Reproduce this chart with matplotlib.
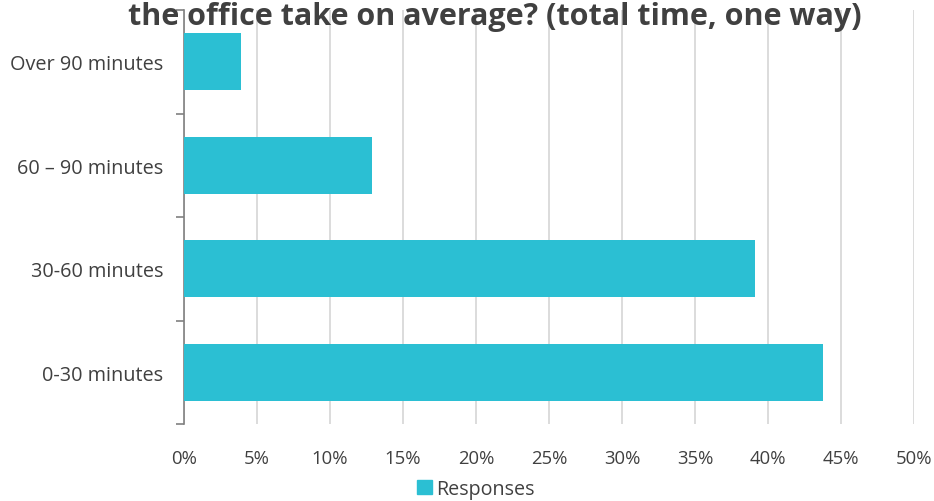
import matplotlib
matplotlib.use("Agg")
import matplotlib.pyplot as plt
from matplotlib.ticker import MultipleLocator, PercentFormatter
from matplotlib.patches import Patch

categories = ["0-30 minutes", "30-60 minutes", "60 \u2013 90 minutes", "Over 90 minutes"]
responses = [43.8, 39.1, 12.9, 3.9]
series_name = "Responses"
title = "the office take on average? (total time, one way)"

plt.rcParams['font.family'] = ['Open Sans', 'DejaVu Sans']
text_color = "#404040"
bar_color = "#2BBFD3"

fig = plt.figure(figsize=(9.34, 5.02), dpi=100)
ax = fig.add_axes([184/934, 77/502, 730/934, 414/502])

y = range(len(categories))
ax.barh(y, responses, height=0.55, color=bar_color, zorder=3)

ax.set_xlim(0, 50)
ax.set_ylim(-0.5, len(categories) - 0.5)
ax.xaxis.set_major_locator(MultipleLocator(5))
ax.xaxis.set_major_formatter(PercentFormatter(decimals=0))
ax.grid(axis='x', color="#D9D9D9", linewidth=1.3, zorder=0)

ax.set_yticks(list(y))
ax.set_yticklabels(categories)
ax.set_yticks([i - 0.5 for i in range(len(categories) + 1)], minor=True)
ax.tick_params(axis='y', which='major', length=0, pad=15, labelsize=14.3, labelcolor=text_color)
ax.tick_params(axis='y', which='minor', length=6, color="#808080", width=1.2)
ax.tick_params(axis='x', length=0, pad=18, labelsize=13.3, labelcolor=text_color)

for s in ['top', 'right', 'bottom']:
    ax.spines[s].set_visible(False)
ax.spines['left'].set_color("#808080")
ax.spines['left'].set_linewidth(1.2)

fig.text(495/934, 1 - 17/502, title, ha='center', va='center', fontsize=22,
         fontweight='bold', color=text_color)

fig.legend(handles=[Patch(color=bar_color, label=series_name)], loc='center',
           bbox_to_anchor=(476/934, 1 - 490/502), frameon=False, fontsize=14.2,
           handlelength=0.75, handleheight=0.75, handletextpad=0.2, labelcolor=text_color)

fig.savefig("out.png", dpi=100)
